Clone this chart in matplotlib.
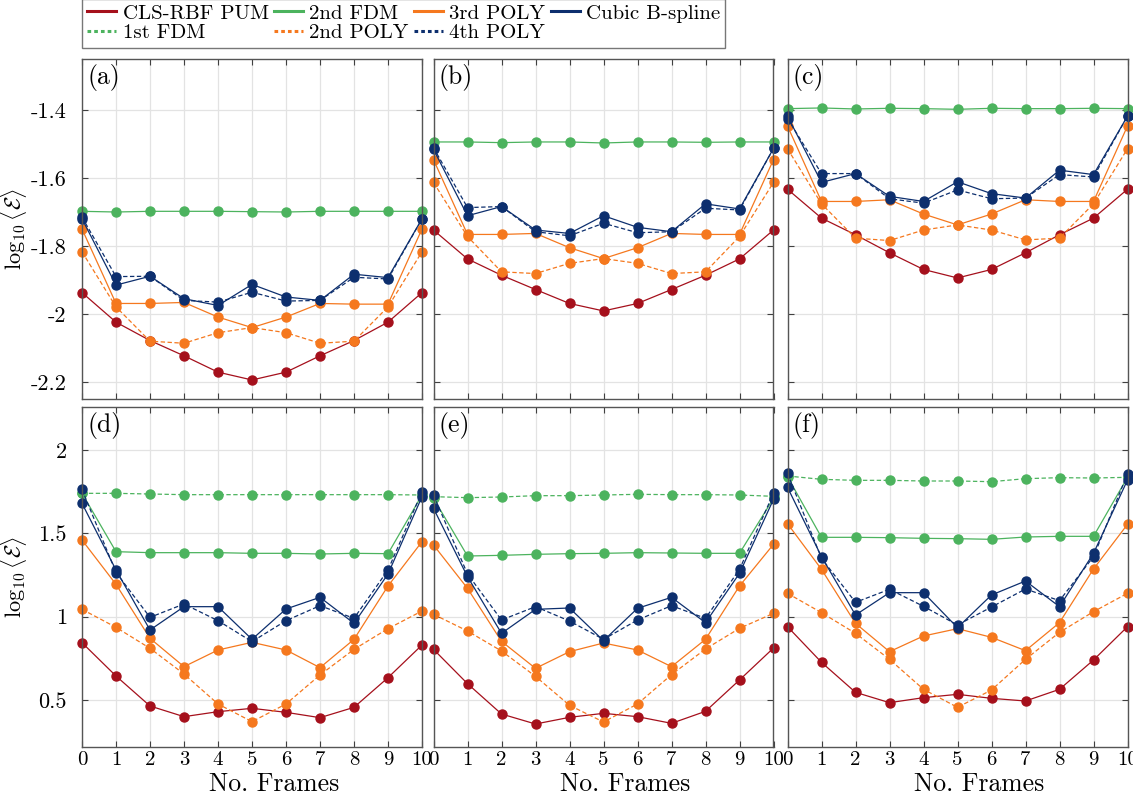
import matplotlib
matplotlib.use("Agg")
import matplotlib.pyplot as plt
from matplotlib.lines import Line2D

plt.rcParams['font.family'] = ['cmr10', 'DejaVu Serif']
plt.rcParams['mathtext.fontset'] = 'cm'
plt.rcParams['axes.unicode_minus'] = False

frames = list(range(11))

# ---------------- top row: panels (a), (b), (c) ----------------
a_cls   = [-1.937, -2.024, -2.078, -2.123, -2.171, -2.194, -2.171, -2.123, -2.078, -2.024, -1.937]
a_fdm2  = [-1.698, -1.700, -1.698, -1.698, -1.698, -1.699, -1.700, -1.698, -1.698, -1.698, -1.698]
a_poly2 = [-1.817, -1.979, -2.080, -2.086, -2.055, -2.040, -2.055, -2.086, -2.080, -1.979, -1.817]
a_poly3 = [-1.750, -1.969, -1.969, -1.966, -2.009, -2.040, -2.009, -1.969, -1.971, -1.971, -1.750]
a_poly4 = [-1.715, -1.890, -1.889, -1.960, -1.965, -1.936, -1.962, -1.960, -1.892, -1.897, -1.720]
a_bspl  = [-1.720, -1.915, -1.889, -1.955, -1.975, -1.913, -1.950, -1.960, -1.883, -1.893, -1.720]

b_cls   = [-1.753, -1.838, -1.886, -1.928, -1.969, -1.991, -1.969, -1.928, -1.886, -1.838, -1.753]
b_fdm2  = [-1.494, -1.494, -1.496, -1.494, -1.494, -1.497, -1.494, -1.494, -1.495, -1.494, -1.494]
b_poly2 = [-1.613, -1.772, -1.876, -1.881, -1.851, -1.837, -1.851, -1.881, -1.876, -1.772, -1.613]
b_poly3 = [-1.546, -1.766, -1.766, -1.763, -1.805, -1.837, -1.805, -1.763, -1.766, -1.766, -1.546]
b_poly4 = [-1.511, -1.687, -1.684, -1.758, -1.770, -1.733, -1.761, -1.758, -1.689, -1.694, -1.513]
b_bspl  = [-1.516, -1.711, -1.684, -1.753, -1.763, -1.711, -1.745, -1.758, -1.676, -1.691, -1.513]

c_cls   = [-1.633, -1.718, -1.767, -1.820, -1.869, -1.894, -1.869, -1.820, -1.767, -1.718, -1.633]
c_fdm2  = [-1.396, -1.394, -1.397, -1.395, -1.396, -1.398, -1.395, -1.396, -1.396, -1.395, -1.396]
c_poly2 = [-1.514, -1.676, -1.777, -1.784, -1.753, -1.738, -1.753, -1.782, -1.777, -1.676, -1.514]
c_poly3 = [-1.447, -1.669, -1.669, -1.664, -1.706, -1.738, -1.706, -1.664, -1.669, -1.669, -1.447]
c_poly4 = [-1.425, -1.587, -1.587, -1.661, -1.674, -1.635, -1.661, -1.659, -1.590, -1.597, -1.418]
c_bspl  = [-1.418, -1.613, -1.587, -1.654, -1.669, -1.611, -1.646, -1.659, -1.577, -1.590, -1.418]

# ---------------- bottom row: panels (d), (e), (f) ----------------
d_cls   = [0.844, 0.644, 0.464, 0.400, 0.430, 0.450, 0.426, 0.394, 0.456, 0.634, 0.830]
d_fdm1  = [1.740, 1.740, 1.736, 1.732, 1.732, 1.732, 1.732, 1.732, 1.732, 1.732, 1.730]
d_fdm2  = [1.740, 1.390, 1.384, 1.384, 1.384, 1.380, 1.380, 1.376, 1.380, 1.378, 1.730]
d_poly2 = [1.044, 0.936, 0.810, 0.656, 0.476, 0.370, 0.476, 0.650, 0.804, 0.928, 1.034]
d_poly3 = [1.460, 1.194, 0.870, 0.700, 0.800, 0.846, 0.800, 0.694, 0.864, 1.184, 1.450]
d_poly4 = [1.764, 1.265, 0.996, 1.076, 0.976, 0.850, 0.976, 1.066, 0.990, 1.280, 1.750]
d_bspl  = [1.680, 1.280, 0.920, 1.060, 1.060, 0.864, 1.046, 1.116, 0.960, 1.256, 1.720]

e_cls   = [0.804, 0.598, 0.416, 0.356, 0.396, 0.420, 0.400, 0.360, 0.432, 0.620, 0.812]
e_fdm1  = [1.720, 1.714, 1.718, 1.726, 1.726, 1.730, 1.734, 1.732, 1.732, 1.730, 1.722]
e_fdm2  = [1.710, 1.364, 1.368, 1.374, 1.378, 1.380, 1.384, 1.382, 1.380, 1.380, 1.710]
e_poly2 = [1.014, 0.914, 0.794, 0.642, 0.468, 0.368, 0.476, 0.652, 0.806, 0.930, 1.020]
e_poly3 = [1.430, 1.170, 0.852, 0.690, 0.790, 0.842, 0.800, 0.700, 0.864, 1.184, 1.434]
e_poly4 = [1.730, 1.256, 0.980, 1.060, 0.974, 0.864, 0.980, 1.066, 0.990, 1.284, 1.740]
e_bspl  = [1.650, 1.240, 0.900, 1.044, 1.052, 0.856, 1.050, 1.116, 0.964, 1.260, 1.704]

f_cls   = [0.940, 0.726, 0.546, 0.484, 0.514, 0.534, 0.510, 0.494, 0.564, 0.740, 0.940]
f_fdm1  = [1.844, 1.824, 1.818, 1.818, 1.814, 1.814, 1.810, 1.828, 1.834, 1.832, 1.836]
f_fdm2  = [1.840, 1.476, 1.476, 1.474, 1.470, 1.468, 1.464, 1.478, 1.482, 1.482, 1.836]
f_poly2 = [1.140, 1.024, 0.900, 0.744, 0.564, 0.456, 0.560, 0.744, 0.906, 1.030, 1.140]
f_poly3 = [1.558, 1.284, 0.960, 0.790, 0.884, 0.928, 0.876, 0.796, 0.964, 1.286, 1.554]
f_poly4 = [1.860, 1.350, 1.086, 1.164, 1.062, 0.950, 1.058, 1.166, 1.096, 1.360, 1.856]
f_bspl  = [1.776, 1.360, 1.010, 1.144, 1.144, 0.934, 1.130, 1.214, 1.060, 1.380, 1.820]

panel_letters = ['(a)', '(b)', '(c)', '(d)', '(e)', '(f)']
top_yticks = [-2.2, -2.0, -1.8, -1.6, -1.4]
top_yticklabels = ['-2.2', '-2', '-1.8', '-1.6', '-1.4']
bot_yticks = [0.5, 1.0, 1.5, 2.0]
bot_yticklabels = ['0.5', '1', '1.5', '2']

RED = '#a5101c'
GREEN = '#4cb35e'
ORANGE = '#f5781e'
NAVY = '#0d2f6e'

W, H = 1133, 801
fig = plt.figure(figsize=(W / 100, H / 100), dpi=100)

lefts = [82, 433.5, 787.5]
pw = 340
tops = [59, 407]
ph = 340

panels = [
    dict(cls=a_cls, fdm1=None, fdm2=a_fdm2, poly2=a_poly2, poly3=a_poly3, poly4=a_poly4, bspl=a_bspl),
    dict(cls=b_cls, fdm1=None, fdm2=b_fdm2, poly2=b_poly2, poly3=b_poly3, poly4=b_poly4, bspl=b_bspl),
    dict(cls=c_cls, fdm1=None, fdm2=c_fdm2, poly2=c_poly2, poly3=c_poly3, poly4=c_poly4, bspl=c_bspl),
    dict(cls=d_cls, fdm1=d_fdm1, fdm2=d_fdm2, poly2=d_poly2, poly3=d_poly3, poly4=d_poly4, bspl=d_bspl),
    dict(cls=e_cls, fdm1=e_fdm1, fdm2=e_fdm2, poly2=e_poly2, poly3=e_poly3, poly4=e_poly4, bspl=e_bspl),
    dict(cls=f_cls, fdm1=f_fdm1, fdm2=f_fdm2, poly2=f_poly2, poly3=f_poly3, poly4=f_poly4, bspl=f_bspl),
]

ms = 6.5
lw = 0.9
dash = (0, (3.5, 2.0))
styles = {}

for i, p in enumerate(panels):
    row, col = divmod(i, 3)
    l = lefts[col] / W
    b = 1 - (tops[row] + ph) / H
    ax = fig.add_axes([l, b, pw / W, ph / H])

    def plot(ys, color, ls, label):
        if ys is None:
            return
        ax.plot(frames, ys, color=color, ls=ls, lw=lw, marker='o', ms=ms,
                mec=color, mfc=color, label=label, clip_on=False)
        styles[label] = (color, ls)

    plot(p['cls'], RED, '-', 'CLS-RBF PUM')
    plot(p['fdm1'], GREEN, dash, '1st FDM')
    plot(p['fdm2'], GREEN, '-', '2nd FDM')
    plot(p['poly2'], ORANGE, dash, '2nd POLY')
    plot(p['poly3'], ORANGE, '-', '3rd POLY')
    plot(p['poly4'], NAVY, dash, '4th POLY')
    plot(p['bspl'], NAVY, '-', 'Cubic B-spline')

    ax.set_xlim(0, 10)
    ax.set_xticks(frames)
    if row == 0:
        ax.set_ylim(-2.25, -1.25)
        ax.set_yticks(top_yticks)
        ax.set_yticklabels(top_yticklabels)
        ax.set_xticklabels([])
    else:
        ax.set_ylim(0.218, 2.258)
        ax.set_yticks(bot_yticks)
        ax.set_yticklabels(bot_yticklabels)
        ax.set_xticklabels([str(f) for f in frames])
        ax.set_xlabel('No. Frames', fontsize=18.5)
        ax.xaxis.set_label_coords(0.565, -0.075)
    if col != 0:
        ax.set_yticklabels([])
    else:
        ax.set_ylabel(r'$\log_{10}\langle\mathcal{E}\rangle$', fontsize=16)
        ax.yaxis.set_label_coords(-0.155, 0.5)

    ax.tick_params(direction='in', top=True, right=True, labelsize=16,
                   length=4, width=0.8, color='#404040')
    ax.tick_params(axis='y', labelsize=16, pad=11)
    ax.tick_params(axis='x', labelsize=15, pad=3)
    ax.grid(True, color='#e3e3e3', lw=0.9)
    ax.set_axisbelow(True)
    for s in ax.spines.values():
        s.set_color('#555555')
        s.set_linewidth(1.0)
    ax.text(0.015, 0.985, panel_letters[i], transform=ax.transAxes,
            ha='left', va='top', fontsize=18.5)

order = ['CLS-RBF PUM', '1st FDM', '2nd FDM', '2nd POLY', '3rd POLY', '4th POLY', 'Cubic B-spline']
leg_handles = [Line2D([], [], color=styles[k][0], ls=(styles[k][1] if styles[k][1] == '-' else (0, (1.2, 1.0))), lw=2.2)
               for k in order]
leg = fig.legend(leg_handles, order, loc='upper left', bbox_to_anchor=(82 / W, 1.0 + 1 / H),
                 ncol=4, fontsize=15, frameon=True, fancybox=False, edgecolor='#555555',
                 handlelength=1.4, handletextpad=0.3, columnspacing=0.25, labelspacing=0.05,
                 borderpad=0.25, borderaxespad=0)
leg.get_frame().set_linewidth(1.0)

fig.savefig('out.png', dpi=100)
